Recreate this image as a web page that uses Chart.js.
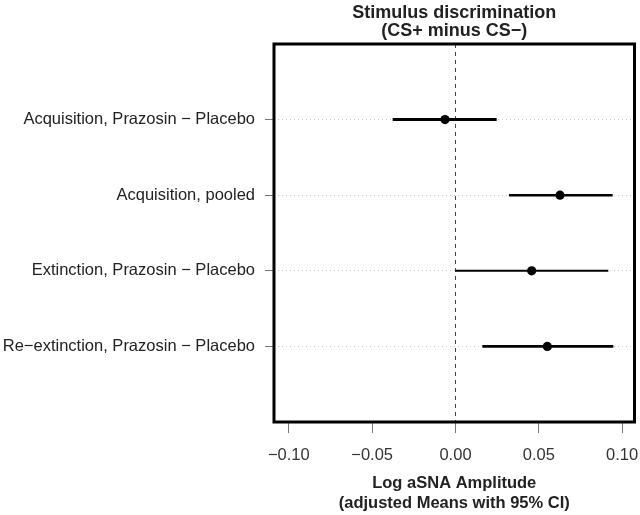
<!DOCTYPE html>
<html>
<head>
<meta charset="utf-8">
<title>Stimulus discrimination</title>
<script src="https://cdn.jsdelivr.net/npm/chart.js@4.4.0/dist/chart.umd.min.js"></script>
<style>
  html, body { margin: 0; padding: 0; background: #fff; }
  canvas { display: block; }
</style>
</head>
<body>
<canvas id="forest-chart" width="640" height="515"></canvas>
<script>
var contrasts = ["Acquisition, Prazosin \u2212 Placebo", "Acquisition, pooled",
                 "Extinction, Prazosin \u2212 Placebo", "Re\u2212extinction, Prazosin \u2212 Placebo"];
var rowPositions = [1, 2, 3, 4];
var estimates = [-0.0063, 0.0627, 0.0457, 0.0551];
var lowerCI = [-0.0377, 0.0321, 0.0000, 0.0161];
var upperCI = [0.0247, 0.0943, 0.0917, 0.0947];
var xTickValues = [-0.10, -0.05, 0, 0.05, 0.10];
var xTickLabels = ["\u22120.10", "\u22120.05", "0.00", "0.05", "0.10"];

// line widths of the interval bars, top to bottom
var ciWidths = [3, 2.4, 2, 2.8];

window.onload = function () {
  Chart.defaults.font.family = "'Liberation Sans', Arial, sans-serif";
  Chart.defaults.color = "#222";

  var chartContainer = document.getElementById("forest-chart");

  var framePlugin = {
    id: "frame",
    afterDraw: function (chart) {
      var a = chart.chartArea, ctx = chart.ctx;
      ctx.save();
      ctx.strokeStyle = "#000";
      ctx.lineWidth = 3;
      ctx.strokeRect(a.left, a.top, a.right - a.left, a.bottom - a.top);
      ctx.restore();
    }
  };

  createChart();

  function noSidePadding(scale) {
    scale.paddingLeft = 0;
    scale.paddingRight = 0;
    scale.paddingTop = 0;
    scale.paddingBottom = 0;
  }

  function getDatasets() {
    var datasets = [];
    for (var i = 0; i < contrasts.length; i++) {
      datasets.push({
        label: contrasts[i] + " CI",
        data: [{x: lowerCI[i], y: rowPositions[i]}, {x: upperCI[i], y: rowPositions[i]}],
        showLine: true,
        borderColor: "#000",
        borderWidth: ciWidths[i],
        borderCapStyle: "butt",
        pointRadius: 0
      });
    }
    datasets.push({
      label: "Estimate",
      data: estimates.map(function (v, i) { return {x: v, y: rowPositions[i]}; }),
      pointRadius: 4.6,
      pointBackgroundColor: "#000",
      pointBorderColor: "#000",
      pointBorderWidth: 0
    });
    return datasets;
  }

  function createChart() {
    return new Chart(chartContainer, {
      type: "scatter",
      data: { datasets: getDatasets() },
      plugins: [framePlugin],
      options: {
        responsive: false,
        animation: false,
        layout: { autoPadding: false, padding: { left: 0, right: 5.5, top: 0, bottom: 0 } },
        plugins: { legend: { display: false }, tooltip: { enabled: false } },
        scales: {
          x: {
            type: "linear",
            position: "bottom",
            min: -0.1089,
            max: 0.1074,
            afterBuildTicks: function (scale) {
              scale.ticks = xTickValues.map(function (v) { return {value: v}; });
            },
            afterFit: function (scale) { scale.height = 93; noSidePadding(scale); },
            ticks: {
              font: { size: 16.5 },
              color: "#333",
              padding: 13,
              maxRotation: 0,
              autoSkip: false,
              callback: function (value) { return xTickLabels[xTickValues.indexOf(value)]; }
            },
            grid: {
              color: function (ctx) { return ctx.tick && ctx.tick.value === 0 ? "#444" : "rgba(0,0,0,0)"; },
              lineWidth: 1,
              tickColor: "#777",
              tickLength: 11,
              tickWidth: 1
            },
            border: { display: false, dash: [4, 4] },
            title: {
              display: true,
              text: ["Log aSNA Amplitude", "(adjusted Means with 95% CI)"],
              font: { size: 16.5, weight: "bold", lineHeight: 20 / 16.5 },
              color: "#222",
              padding: { top: 0, bottom: 2 }
            }
          },
          x2: {
            type: "linear",
            position: "top",
            afterFit: function (scale) { scale.height = 44; noSidePadding(scale); },
            ticks: { display: false },
            grid: { display: false },
            border: { display: false },
            title: {
              display: true,
              text: ["Stimulus discrimination", "(CS+ minus CS\u2212)"],
              font: { size: 18, weight: "bold", lineHeight: 1 },
              color: "#222",
              padding: { top: 4, bottom: 0 }
            }
          },
          y: {
            type: "linear",
            position: "left",
            min: 0,
            max: 5,
            reverse: true,
            afterBuildTicks: function (scale) {
              scale.ticks = rowPositions.map(function (v) { return {value: v}; });
            },
            afterFit: function (scale) { scale.width = 274; noSidePadding(scale); },
            ticks: {
              font: { size: 16.5 },
              color: "#222",
              padding: 10,
              autoSkip: false,
              callback: function (value) { return contrasts[rowPositions.indexOf(value)]; }
            },
            grid: {
              color: "#c4c4c4",
              lineWidth: 1,
              tickColor: "#777",
              tickLength: 9,
              tickWidth: 1
            },
            border: { display: false, dash: [1, 3] }
          }
        }
      }
    });
  }
};
</script>
</body>
</html>
